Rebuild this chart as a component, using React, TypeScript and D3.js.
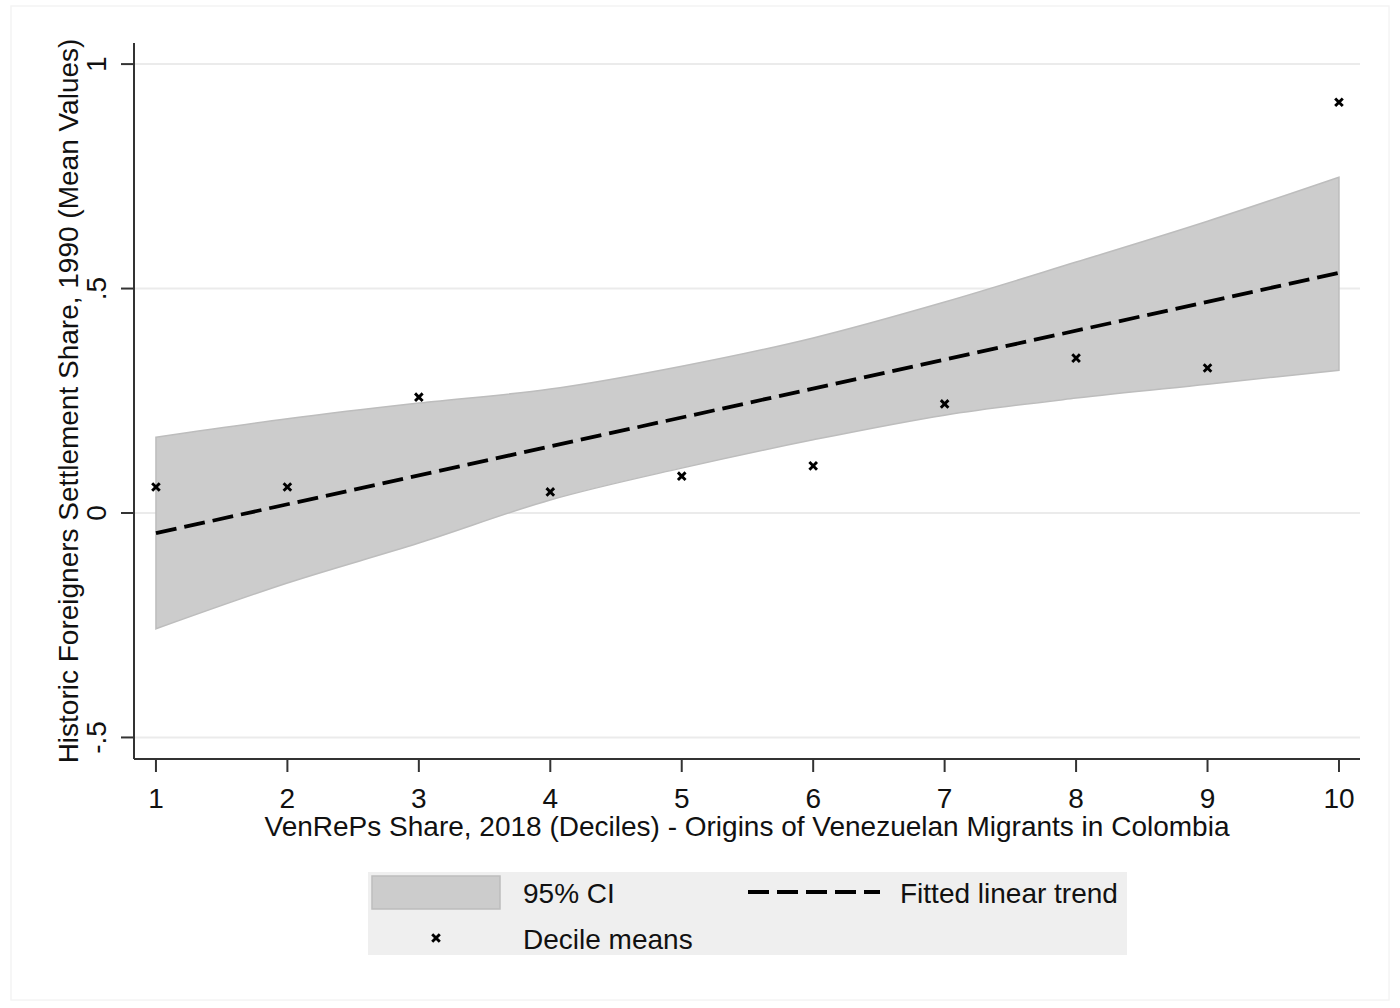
import * as d3 from 'd3'
import { useRef, useEffect } from 'react'

// decile positions and mean values
const deciles = [1, 2, 3, 4, 5, 6, 7, 8, 9, 10]
const decileMeans = [0.058, 0.058, 0.258, 0.047, 0.082, 0.105, 0.243, 0.345, 0.323, 0.915]
const fitEnds = [-0.045, 0.535]
const ciUpper = [0.169, 0.21, 0.245, 0.276, 0.327, 0.39, 0.47, 0.559, 0.65, 0.748]
const ciLower = [-0.258, -0.156, -0.067, 0.029, 0.1, 0.163, 0.218, 0.256, 0.287, 0.318]
const yTicks = [-0.5, 0, 0.5, 1]
const yTickLabels = ['-.5', '0', '.5', '1']

const FONT = "'Liberation Sans', Arial, sans-serif"
const FS = 28

function App() {
    const svgRef = useRef(null)

    useEffect(() => {
        const widthSvg = 1400
        const heightSvg = 1008
        const svg = d3.select(svgRef.current)
                    .attr('width', widthSvg)
                    .attr('height', heightSvg)
        svg.selectAll('*').remove()

        const margins = {left: 134, top: 43, right: 40, bottom: 249}
        const widthPlot = widthSvg - margins.left - margins.right
        const heightPlot = heightSvg - margins.top - margins.bottom

        svg.append('rect')
            .attr('x', 0).attr('y', 0)
            .attr('width', widthSvg).attr('height', heightSvg)
            .attr('fill', '#ffffff')
        svg.append('rect')
            .attr('x', 11).attr('y', 6)
            .attr('width', 1378).attr('height', 994)
            .attr('fill', 'none')
            .attr('stroke', '#f4f4f4')
            .attr('stroke-width', 1.5)

        const gPlot = svg.append('g')
                        .attr('transform', `translate(${margins.left}, ${margins.top})`)

        const scaleX = d3.scaleLinear()
                        .domain([0.833, 10.16])
                        .range([0, widthPlot])
        const scaleY = d3.scaleLinear()
                        .domain([-0.548, 1.047])
                        .range([heightPlot, 0])

        // gridlines
        gPlot.selectAll('.grid')
            .data(yTicks)
            .join('line')
            .attr('class', 'grid')
            .attr('x1', 0).attr('x2', widthPlot)
            .attr('y1', d => scaleY(d)).attr('y2', d => scaleY(d))
            .attr('stroke', '#ebebeb')
            .attr('stroke-width', 2)

        // CI band
        const band = deciles.map((d, i) => ({x: d, lo: ciLower[i], hi: ciUpper[i]}))
        gPlot.append('path')
            .datum(band)
            .attr('fill', '#cccccc')
            .attr('stroke', '#bdbdbd')
            .attr('stroke-width', 1.5)
            .attr('d', d3.area()
                .x(d => scaleX(d.x))
                .y0(d => scaleY(d.lo))
                .y1(d => scaleY(d.hi))
                .curve(d3.curveMonotoneX))

        // fitted line
        gPlot.append('path')
            .datum([[deciles[0], fitEnds[0]], [deciles[deciles.length - 1], fitEnds[1]]])
            .attr('fill', 'none')
            .attr('stroke', '#000')
            .attr('stroke-width', 3.8)
            .attr('stroke-dasharray', '21 8')
            .attr('d', d3.line().x(d => scaleX(d[0])).y(d => scaleY(d[1])))

        // markers
        const cross = (g, cx, cy, r) => {
            g.append('path')
                .attr('d', `M${cx - r},${cy - r}L${cx + r},${cy + r}M${cx - r},${cy + r}L${cx + r},${cy - r}`)
                .attr('stroke', '#000')
                .attr('stroke-width', 2.9)
                .attr('fill', 'none')
        }
        deciles.forEach((d, i) => cross(gPlot, scaleX(d), scaleY(decileMeans[i]), 3.8))

        // axes
        gPlot.append('line')
            .attr('x1', 0).attr('x2', 0).attr('y1', 0).attr('y2', heightPlot)
            .attr('stroke', '#333').attr('stroke-width', 2)
        gPlot.append('line')
            .attr('x1', 0).attr('x2', widthPlot).attr('y1', heightPlot).attr('y2', heightPlot)
            .attr('stroke', '#333').attr('stroke-width', 2)

        gPlot.selectAll('.ytick')
            .data(yTicks)
            .join('line')
            .attr('class', 'ytick')
            .attr('x1', -13).attr('x2', 0)
            .attr('y1', d => scaleY(d)).attr('y2', d => scaleY(d))
            .attr('stroke', '#333').attr('stroke-width', 2)
        gPlot.selectAll('.ylab')
            .data(yTicks)
            .join('text')
            .attr('class', 'ylab')
            .attr('transform', d => `translate(-28, ${scaleY(d)}) rotate(-90)`)
            .attr('text-anchor', 'middle')
            .attr('font-family', FONT)
            .attr('font-size', FS)
            .attr('fill', '#111')
            .text((d, i) => yTickLabels[i])

        gPlot.selectAll('.xtick')
            .data(deciles)
            .join('line')
            .attr('class', 'xtick')
            .attr('x1', d => scaleX(d)).attr('x2', d => scaleX(d))
            .attr('y1', heightPlot).attr('y2', heightPlot + 13)
            .attr('stroke', '#333').attr('stroke-width', 2)
        gPlot.selectAll('.xlab')
            .data(deciles)
            .join('text')
            .attr('class', 'xlab')
            .attr('x', d => scaleX(d))
            .attr('y', heightPlot + 49)
            .attr('text-anchor', 'middle')
            .attr('font-family', FONT)
            .attr('font-size', FS)
            .attr('fill', '#111')
            .text(d => d)

        // axis titles
        svg.append('text')
            .attr('x', 747).attr('y', 836)
            .attr('text-anchor', 'middle')
            .attr('font-family', FONT)
            .attr('font-size', FS)
            .attr('fill', '#111')
            .text('VenRePs Share, 2018 (Deciles) - Origins of Venezuelan Migrants in Colombia')
        svg.append('text')
            .attr('transform', `translate(78, 401) rotate(-90)`)
            .attr('text-anchor', 'middle')
            .attr('font-family', FONT)
            .attr('font-size', FS)
            .attr('fill', '#111')
            .text('Historic Foreigners Settlement Share, 1990 (Mean Values)')

        // legend
        const gLeg = svg.append('g')
        gLeg.append('rect')
            .attr('x', 368).attr('y', 872).attr('width', 759).attr('height', 83)
            .attr('fill', '#efefef')
        gLeg.append('rect')
            .attr('x', 372).attr('y', 876).attr('width', 128).attr('height', 33)
            .attr('fill', '#cccccc').attr('stroke', '#bdbdbd').attr('stroke-width', 1.5)
        gLeg.append('text')
            .attr('x', 523).attr('y', 903)
            .attr('font-family', FONT).attr('font-size', FS).attr('fill', '#111')
            .text('95% CI')
        gLeg.append('line')
            .attr('x1', 748).attr('x2', 880).attr('y1', 892).attr('y2', 892)
            .attr('stroke', '#000').attr('stroke-width', 3.8)
            .attr('stroke-dasharray', '21 8')
        gLeg.append('text')
            .attr('x', 900).attr('y', 903)
            .attr('font-family', FONT).attr('font-size', FS).attr('fill', '#111')
            .text('Fitted linear trend')
        cross(gLeg, 436, 938, 3.8)
        gLeg.append('text')
            .attr('x', 523).attr('y', 949)
            .attr('font-family', FONT).attr('font-size', FS).attr('fill', '#111')
            .text('Decile means')
    }, [])

    return (
        <svg ref={svgRef} style={{position: 'absolute', left: 0, top: 0, display: 'block'}}></svg>
    )
}

export default App
